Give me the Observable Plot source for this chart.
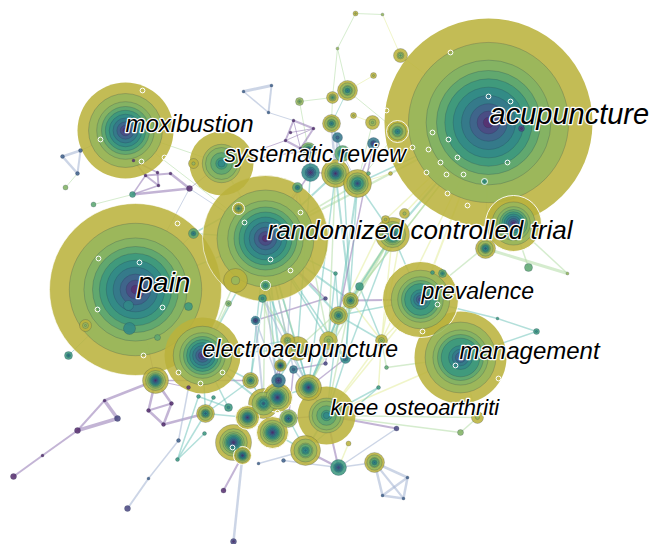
<!DOCTYPE html>
<html>
<head>
<meta charset="utf-8">
<script src="https://cdn.jsdelivr.net/npm/d3@7"></script>
<script src="https://cdn.jsdelivr.net/npm/@observablehq/plot@0.6"></script>
<style>
  html, body { margin: 0; padding: 0; background: #fff; }
  #chart svg { display: block; }
</style>
</head>
<body>
<div id="chart"></div>
<script>
// Year colours, oldest (index 0) to newest (index 9)
const yearColors = ["#58306f","#4c4a83","#40628b","#36778b","#318987","#3c987e","#5ca671","#82b264","#97b75c","#bab23c"];
// Edge colours by period
const edgeColors = {P: "#9277b2", B: "#a3b2d2", T: "#72c4bb", G: "#b2dda6", Y: "#e4ec9c"};
// Relative ring radii (outermost first)
const ringFrac = [1, 0.77, 0.6, 0.5, 0.42, 0.34, 0.26, 0.18, 0.11, 0.05];

// Nodes: id, x, y, outer radius, first year index, last year index, white border
const nodes = [
  ["acu",488,122,104,0,9,0],
  ["pain",135,289,86,0,9,1],
  ["rct",265,238,63,0,9,1],
  ["mox",125,130,48,0,9,0],
  ["mgmt",460,357,46,1,9,0],
  ["prev",420,299,38,1,9,1],
  ["ea",202,355,38,0,9,0],
  ["sr",221,163,32,4,9,0],
  ["ko",326,415,29,4,9,0],
  ["n9",513,223,28,0,9,1],
  ["n10",392,234,17,1,9,0],
  ["c25",233,442,18,0,9,0],
  ["c23",272,432,16,0,9,1],
  ["c20",263,403,15,2,9,0],
  ["c21",277,397,15,0,9,1],
  ["c27",305,450,15,3,9,0],
  ["t15",335,173,14,0,9,0],
  ["t16",357,183,14,1,9,0],
  ["c19",308,387,13,0,9,0],
  ["c30",155,380,13,0,9,0],
  ["c13",297,348,12,7,9,0],
  ["c22",247,417,12,0,9,1],
  ["pn8",235,280,12,8,9,0],
  ["t11",397,131,11,3,9,1],
  ["n11",485,248,10,2,9,0],
  ["t2",347,90,10,3,9,0],
  ["b1",374,462,10,3,9,0],
  ["t1",400,55,7,6,9,0],
  ["t3",332,97,6,5,9,0],
  ["t4",299,101,4,6,8,0],
  ["t5",373,75,3,8,9,0],
  ["t6",355,13,2.5,8,9,0],
  ["tp1",382,14,1.5,8,8,0],
  ["tp2",337,48,1.5,8,8,0],
  ["t7",331,123,9,3,9,0],
  ["t8",337,137,5,2,3,0],
  ["t9",372,122,7,7,9,0],
  ["t10",353,115,3,8,9,0],
  ["t12",373,143,6,0,3,0],
  ["t13",308,150,8,0,7,0],
  ["t14",342,153,8,2,6,0],
  ["t17",310,172,9,0,4,0],
  ["t18",297,187,5,3,6,0],
  ["t19",368,173,2,6,6,0],
  ["pl1",293,120,1.5,0,0,0],
  ["pl2",313,128,1.5,0,0,0],
  ["pl3",285,140,1.5,0,0,0],
  ["pl4",300,148,1.5,0,0,0],
  ["pl5",290,132,1.5,0,0,0],
  ["g1",243,91,1.5,2,2,0],
  ["g2",271,85,1.5,2,2,0],
  ["g3",268,112,1.5,2,2,0],
  ["s1",193,163,5,8,9,0],
  ["s2",238,208,6,4,9,1],
  ["a1",404,213,5,8,9,0],
  ["a2",385,219,4,8,9,0],
  ["a3",390,173,2,9,9,0],
  ["a4",484,181,3,4,5,1],
  ["a5",521,128,3,0,1,0],
  ["n12",528,267,4,6,6,0],
  ["n13",567,273,1.5,8,8,0],
  ["p1",536,331,3,4,5,0],
  ["p2",497,318,1.5,5,5,0],
  ["p3",442,273,4,4,6,0],
  ["p4",432,272,2,5,5,0],
  ["p6",386,367,2,6,6,0],
  ["k1",477,417,6,8,9,0],
  ["k2",460,432,3,7,7,0],
  ["k3",396,428,2.5,1,1,0],
  ["b2",407,477,1.5,2,2,0],
  ["b3",382,495,1.5,2,2,0],
  ["b4",403,498,1.5,2,2,0],
  ["c1",350,300,8,3,9,0],
  ["c2",359,286,4,5,5,0],
  ["c3",338,315,9,3,9,0],
  ["c4",335,273,2,5,5,0],
  ["c5",325,298,2,1,1,0],
  ["c6",265,285,5,4,6,1],
  ["c7",262,298,4,4,5,0],
  ["c8",255,320,5,0,3,1],
  ["c9",228,303,3,6,7,0],
  ["c10",287,340,7,6,9,0],
  ["c11",328,340,9,7,9,0],
  ["c12",381,340,6,7,9,0],
  ["c14",345,358,5,2,4,0],
  ["c15",280,365,6,0,9,0],
  ["c16",293,369,4,2,3,0],
  ["c17",250,380,8,3,9,0],
  ["c18",278,380,7,0,3,0],
  ["c24",288,418,9,1,8,0],
  ["c26",242,455,9,0,9,1],
  ["c28",338,467,8,1,5,0],
  ["c29",205,413,9,2,9,0],
  ["c31",228,407,4,4,5,0],
  ["c32",188,387,2,0,0,0],
  ["c33",198,396,2,5,5,0],
  ["c34",213,397,2,5,5,0],
  ["c35",178,440,2,2,2,0],
  ["c36",177,459,2,5,5,0],
  ["c37",223,490,2.5,0,0,0],
  ["c38",233,541,3,0,1,0],
  ["c39",258,463,1.5,2,2,0],
  ["c40",283,460,2,2,2,0],
  ["c42",348,443,2.5,9,9,0],
  ["c43",378,387,2,5,5,0],
  ["c45",325,363,2,1,1,0],
  ["l1",104,400,1.5,0,0,0],
  ["l2",117,418,3,1,1,0],
  ["l3",77,430,3,0,0,0],
  ["l4",42,455,1.5,0,0,0],
  ["l5",13,476,3,0,0,0],
  ["l6",148,410,2,0,0,0],
  ["l7",171,403,2,0,0,0],
  ["l8",163,424,2,0,0,0],
  ["l10",148,478,1.5,2,2,0],
  ["l11",127,508,3,1,1,0],
  ["l12",204,433,2,5,5,0],
  ["m1",62,156,2,2,2,0],
  ["m2",80,150,2,2,2,0],
  ["m3",77,173,2,2,2,0],
  ["m4",65,187,2.5,7,7,0],
  ["m5",93,204,2.5,6,6,0],
  ["m6",132,194,3,5,5,0],
  ["m7",189,188,3,0,0,0],
  ["m8",145,175,1.5,0,0,0],
  ["m9",157,172,1.5,0,0,0],
  ["m10",158,185,1.5,0,0,0],
  ["m11",170,173,1.5,0,0,0],
  ["m12",133,160,1.5,0,0,0],
  ["pn1",193,233,5,3,6,0],
  ["pn2",188,306,4,5,5,0],
  ["pn3",128,305,5,4,4,0],
  ["pn4",85,325,6,7,9,0],
  ["pn5",129,328,6,4,4,0],
  ["pn6",157,337,3,6,6,0],
  ["pn7",68,355,4,3,5,0]
];

// Tiny hollow (white-outlined) nodes
const hollowX = [450,386,488,510,432,448,412,428,457,440,507,426,446,463,447,467, 142,100,141,164, 177,98,139,97,162,143, 270,244,300,290, 455,498, 437,422, 178,200,222, 277,232];
const hollowY = [52,110,96,101,132,139,147,149,157,162,162,172,174,174,193,205, 90,139,161,157, 223,258,262,309,307,355, 259,222,212,270, 365,378, 304,331, 372,383,372, 412,447];

// Links: source, target, period, width
const edges = [
  ["t6","tp1","G",1],["t6","tp2","G",1],["tp2","t3","G",1],["tp2","t2","G",1],["tp1","t1","Y",1],["t5","t2","Y",1],
  ["t1","acu","Y",1],["t2","t11","G",1],["t3","t7","G",1],["t2","t7","T",1],["t7","t14","T",1.5],["t7","t15","B",2.5],
  ["t8","t15","B",2.5],["t12","t16","P",1.5],["t11","t16","G",1],["t9","t16","G",1],["t10","t9","Y",1],["t4","t13","G",1],
  ["t13","t17","P",1.5],["t17","t15","P",1],["t15","t16","T",2],["t16","n10","T",1.5],["t15","rct","T",2],["t16","rct","G",1.5],
  ["t18","rct","T",1],["t14","t16","B",1],["t19","t16","G",1],["t4","t3","G",1],
  ["pl1","pl2","P",2],["pl1","pl3","P",2],["pl2","pl4","P",2],["pl3","pl4","P",2],["pl1","pl4","P",1],["pl2","pl3","P",1],
  ["pl5","pl2","P",1],["pl4","t13","P",1],["pl3","sr","P",1],
  ["g1","g2","B",3],["g1","g3","B",1.5],["g2","g3","B",2],["g3","pl1","B",1],
  ["m1","m2","B",2.5],["m1","m3","B",2.5],["m2","m3","B",2],["m2","mox","B",1],["m4","m3","G",1],["m5","m6","G",1],
  ["m6","m10","P",1.5],["m8","m10","P",2],["m8","m11","P",2],["m9","m10","P",2],["m11","m7","P",2.5],["m6","m7","P",2.5],
  ["m12","m8","P",1.5],["m12","m9","P",1.5],["m8","m6","P",1.5],["mox","sr","G",1],["mox","m12","P",1],["m7","sr","P",1],
  ["m7","rct","B",1],["m7","pain","B",1],
  ["pain","rct","T",1.5],["pain","ea","T",1],["pain","pn1","T",1],["pn8","rct","G",1],["pain","pn7","T",1],["pain","c30","P",1],
  ["c30","l1","P",2.5],["l1","l2","P",3.5],["l1","l3","P",2],["l2","l3","P",3.5],["l3","l4","P",2],["l4","l5","P",2],
  ["c30","l6","P",2.5],["c30","l7","P",2.5],["l6","l8","P",2.5],["l7","l8","P",2.5],["l6","l7","P",2],["l8","c29","P",2.5],
  ["c30","c32","P",1],["c32","c35","B",1.5],["c35","l10","B",1.5],["l10","l11","B",2],["c33","c36","T",1.5],["c36","l12","T",1.5],
  ["c34","c29","T",1.5],["c33","c31","T",1.5],["c31","ea","T",1.5],["c36","c29","T",1.5],["c32","ea","B",1.5],
  ["c26","c37","P",2],["c26","c38","B",2.5],["c27","c39","B",1.5],["c40","c28","B",1.5],["c28","c42","Y",1.5],["c27","c28","P",2.5],
  ["c28","ko","P",2],["b1","b2","B",2.5],["b1","b3","B",2.5],["b2","b3","B",2.5],["b2","b4","B",2.5],["b3","b4","B",2.5],["b1","b4","B",2],
  ["k3","ko","P",2],["c43","ko","T",1.5],["ko","k1","G",1.5],["k1","k2","G",1.5],["ko","k2","G",1.5],["c28","b1","B",1.5],
  ["rct","c1","T",2],["rct","c3","T",2],["rct","c11","T",1.5],["rct","c13","G",2],["rct","c19","T",1.5],["rct","c10","G",1.5],
  ["rct","c14","T",1.5],["rct","ea","T",1.5],["rct","c21","T",1.5],["n10","c1","T",1.5],["n10","c3","G",1.5],["acu","n10","T",2],
  ["acu","c1","G",1.5],["prev","c1","P",2],["prev","c12","Y",1.5],["prev","c3","T",1.5],["prev","mgmt","Y",1.5],["mgmt","p1","T",1.5],
  ["p1","p2","T",1.5],["p2","prev","T",1.5],["prev","p3","T",1.5],["p3","p4","T",1],["n11","n13","G",3],["n9","n13","G",1.5],["n9","n12","G",1.5],
  ["n9","n11","G",1.5],["acu","n11","G",1.5],["n9","prev","G",1.5],["n10","prev","T",1.5],["c3","c11","T",1.5],["c11","c14","T",1.5],
  ["c14","c19","P",1.5],["c19","c21","T",1.5],["c21","c22","T",1.5],["c22","c25","T",1.5],["c23","c24","G",1.5],["c19","ko","T",1.5],
  ["c17","ea","T",1.5],["c17","c29","T",1.5],["c15","c18","P",1.5],["c18","c21","P",1.5],["c22","c29","T",1.5],["c23","c27","T",1.5],
  ["c27","ko","T",2],["c24","ko","P",1.5],["c20","c17","T",1.5],["c25","c26","P",1.5],["c12","ko","Y",1.5],["c12","c3","T",1.5],
  ["c1","c2","T",1.5],["c4","c3","T",1.5],["c5","c8","P",1.5],["c8","c18","B",1.5],["c6","c10","T",1.5],["c7","c13","G",1.5],
  ["c45","c16","P",1.5],["c16","c19","B",1.5],["c9","ea","G",1.5],["pn1","rct","T",1.5],["s2","rct","T",1.5],["ea","c13","T",1.5],
  ["ea","c10","T",1.5],["c13","c1","G",1.5],["c10","c19","T",1.5],["c3","c19","T",2],["c1","c12","Y",1.5],["c12","p6","G",1.5],
  ["p6","mgmt","G",1.5],["mgmt","ko","Y",1.5],["mgmt","k1","Y",1.5],["acu","t11","G",1.5],["acu","rct","G",2],["acu","n9","G",1.5],
  ["acu","a1","Y",1.5],["acu","a2","Y",1.5],["acu","t16","T",1.5],["a3","t16","Y",1],["rct","c5","P",1.5],["rct","c4","T",1.5],
  ["c2","n10","T",1.5],["c15","c20","P",1.5],["c16","c24","P",1.5],["c21","c27","T",1.5],["c20","c25","T",1.5],["c17","c30","P",1.5],
  ["ea","c29","T",1.5],["c43","c27","T",1.5],["c45","c11","P",1.5],["k3","c28","B",1.5],
  ["t15","c1","T",2],["t16","c3","T",2],["t15","c11","G",1.5],["t17","c13","T",1.5],["t18","c10","B",1.5],["rct","c15","T",2],
  ["rct","c16","B",1.5],["rct","c17","T",1.5],["rct","c20","G",1.5],["n10","c11","G",2],["n10","c12","Y",1.5],["n10","c14","T",1.5],
  ["acu","c3","G",1.5],["acu","prev","Y",2],["acu","c12","Y",1.5],["t16","c14","T",1.5],["t15","c19","T",1.5],["c1","c14","T",1.5],
  ["c1","c19","G",1.5],["c13","c19","T",1.5],["c10","c15","T",1.5],["c11","c19","T",2],["c3","ko","T",1.5],["c14","ko","T",1.5],
  ["c1","ko","G",1.5],["prev","ko","Y",1.5],["c12","c43","Y",1.5],["ea","c20","T",2],["c13","c20","T",1.5],["c6","c17","T",1.5],
  ["c7","c15","G",1.5],["pn8","ea","G",1.5],["s2","pn1","T",1.5],["sr","rct","G",1.5],["sr","t13","P",1.5],["t17","rct","P",1.5],
  ["mox","rct","G",1],["t14","c1","T",1.5],["t18","c11","G",1.5],["c2","c12","T",1.5],["c4","c11","T",1.5],["c6","c21","B",1.5],
  ["c7","c19","B",1.5],["c8","c20","B",2],["n10","c19","G",1.5],["a2","c3","Y",1.5],["a1","c12","Y",1.5],["t12","c3","P",1.5]
];

// Labels
const labelText = ["acupuncture","randomized controlled trial","pain","moxibustion","systematic review","prevalence","management","electroacupuncture","knee osteoarthriti"];
const labelX    = [489, 267, 137, 125, 224, 421, 459, 202, 330];
const labelY    = [123, 238, 291, 131, 161, 298, 358, 356, 414];
const labelSize = [29, 26, 28, 24, 23, 23, 24, 23, 22];

// ---- build tables for marks ----
const byId = new Map(nodes.map(d => [d[0], d]));
const order = nodes.slice().sort((a, b) => b[3] - a[3]);
const rings = [];
for (const [id, x, y, R, first, last, border] of order) {
  const n = last - first + 1;
  for (let j = 0; j < n; ++j) {
    const frac = ringFrac[Math.min(9, Math.round(j * 10 / n))];
    const outer = j === 0;
    rings.push({
      x, y,
      r: R * frac,
      fill: yearColors[last - j],
      stroke: outer && border ? "#ffffff" : (outer && R > 20 ? "none" : "#1f2d48"),
      sw: outer && border ? 1 : 0.6,
      so: outer && border ? (R > 40 ? 0.6 : 0.9) : 0.35
    });
  }
}
const links = edges.map(([s, t, c, w]) => {
  const a = byId.get(s), b = byId.get(t);
  return {x1: a[1], y1: a[2], x2: b[1], y2: b[2], stroke: edgeColors[c], w};
});
const hollow = hollowX.map((x, i) => ({x, y: hollowY[i]}));
const labels = labelText.map((text, i) => ({text, x: labelX[i], y: labelY[i], size: labelSize[i]}));

const chart = Plot.plot({
  width: 652,
  height: 544,
  margin: 0,
  style: {background: "#ffffff"},
  x: {domain: [0, 652], range: [0, 652], axis: null},
  y: {domain: [0, 544], range: [0, 544], axis: null},
  r: {type: "linear", domain: [0, 100], range: [0, 100]},
  color: {type: "identity"},
  marks: [
    Plot.link(links, {x1: "x1", y1: "y1", x2: "x2", y2: "y2", stroke: "stroke", strokeWidth: "w", strokeOpacity: 0.55}),
    Plot.dot(rings, {x: "x", y: "y", r: "r", fill: "fill", fillOpacity: 0.87, stroke: "stroke", strokeWidth: "sw", strokeOpacity: "so"}),
    Plot.dot(hollow, {x: "x", y: "y", r: 2.4, fill: "none", stroke: "#ffffff", strokeWidth: 1}),
    Plot.text(labels, {
      x: "x", y: "y", text: "text", fontSize: "size",
      fontStyle: "italic", fontFamily: "'Liberation Sans', Arial, sans-serif",
      textAnchor: "start", lineAnchor: "bottom",
      fill: "#000000", stroke: "#ffffff", strokeWidth: 2.5
    })
  ]
});
document.getElementById("chart").appendChild(chart);
</script>
</body>
</html>
